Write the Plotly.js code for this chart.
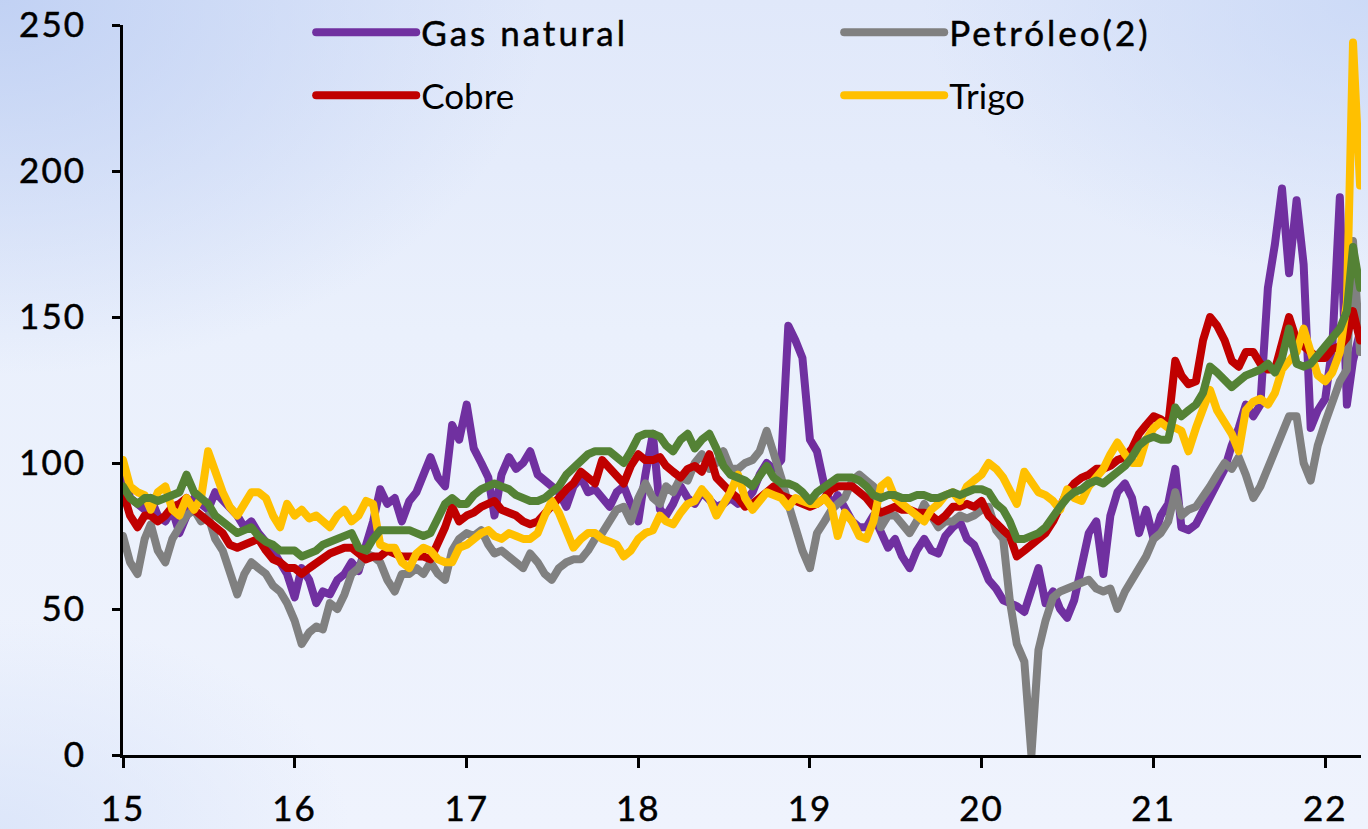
<!DOCTYPE html>
<html>
<head>
<meta charset="utf-8">
<script src="https://cdn.plot.ly/plotly-3.0.1.min.js"></script>
<style>
html, body { margin:0; padding:0; width:1368px; height:829px; overflow:hidden; }
body {
  background:
    radial-gradient(ellipse 760px 520px at 0% 0%, rgba(190,207,243,0.9), rgba(190,207,243,0) 72%),
    radial-gradient(ellipse 620px 380px at 100% 0%, rgba(200,215,246,0.8), rgba(200,215,246,0) 72%),
    radial-gradient(ellipse 500px 300px at 0% 100%, rgba(216,227,249,0.8), rgba(216,227,249,0) 70%),
    linear-gradient(180deg, #e0e8fa 0%, #eaf0fc 40%, #eff3fd 100%);
}
#chart { width:1368px; height:829px; }
.js-line { stroke-linejoin: round; stroke-linecap: round; }
.legendlines path { stroke-linecap: round; }
.legendtext { letter-spacing: 3px; stroke:#000; stroke-width:0.5px; }
.xtick text, .ytick text { letter-spacing: 2px; stroke:#000; stroke-width:0.5px; }
</style>
</head>
<body>
<div id="chart"></div>
<script>
// Semi-monthly observations (1st and 16th of each month), Jan 2015 - Mar 2022
const gasNatural = [
  100,88,86,84,88,82,80,84,76,82,88,86,84,90,87,84,82,78,80,76,73,70,66,62,
  54,64,60,52,56,55,60,62,66,63,72,80,91,86,88,80,87,90,96,102,95,92,113,108,
  120,105,100,95,82,96,102,98,100,104,96,94,92,90,85,92,95,90,91,88,85,90,92,86,
  80,96,110,84,82,86,92,88,86,90,87,85,86,88,86,87,90,96,100,98,101,147,142,136,
  108,104,92,85,89,84,80,78,78,82,76,71,74,68,64,70,74,70,69,75,78,80,74,72,
  66,60,57,53,52,51,49,57,64,52,56,50,47,53,64,76,80,62,82,90,93,88,76,84,
  74,82,86,98,78,77,79,84,88,93,98,106,112,120,116,120,160,175,194,165,190,168,112,118,
  122,140,191,120,135,145
];
const petroleo = [
  75,66,62,74,79,70,66,74,78,82,84,80,82,74,70,62,55,62,66,64,62,58,56,52,
  46,38,42,44,43,52,50,55,62,64,69,68,66,60,56,62,62,64,62,66,62,60,70,74,
  76,75,77,72,69,70,68,66,64,69,66,62,60,64,66,67,67,70,74,76,80,84,85,80,
  88,93,88,86,92,90,95,94,100,103,98,100,104,98,98,100,101,104,111,104,95,86,78,70,
  64,76,80,84,86,88,94,96,94,92,78,82,82,79,76,80,86,82,78,80,80,82,81,82,
  84,85,77,74,53,38,32,0,36,46,54,56,57,58,59,60,57,56,57,50,56,60,64,68,
  74,76,80,90,82,84,85,88,92,96,100,98,102,96,88,92,98,104,110,116,116,100,94,106,
  114,121,128,132,176,138
];
const cobre = [
  90,82,78,82,82,80,82,85,86,88,84,82,80,78,76,72,71,72,73,74,70,67,66,64,
  64,62,64,66,67,69,70,71,71,69,67,68,68,70,69,68,68,68,68,67,72,78,85,80,
  82,83,85,86,87,84,83,82,80,79,80,83,86,88,91,93,97,95,93,101,98,96,93,99,
  103,101,101,102,99,97,95,98,99,97,103,95,92,90,88,85,86,88,90,92,89,88,87,86,
  85,86,88,91,92,92,92,90,88,85,83,84,85,84,84,83,83,82,80,82,85,85,86,85,
  87,82,79,77,75,68,70,72,74,76,80,85,90,93,95,96,98,98,99,101,102,105,110,113,
  116,115,113,135,130,127,128,142,150,147,142,135,133,138,138,134,132,132,140,150,142,140,138,136,
  136,139,140,143,152,142
];
const trigo = [
  101,92,90,89,84,90,92,84,82,88,84,88,104,97,90,85,82,86,90,90,88,82,78,86,
  82,84,81,82,80,78,82,84,80,82,87,86,72,71,71,66,64,69,71,70,67,66,66,71,
  72,74,76,77,75,74,76,75,74,74,76,82,87,83,77,71,74,76,76,74,73,72,68,70,
  74,76,77,82,80,79,83,86,87,91,88,82,86,90,96,88,84,87,90,89,88,85,88,87,
  86,86,88,85,75,83,80,75,74,80,92,94,88,86,84,82,80,84,86,89,90,87,92,94,
  96,100,98,95,91,86,97,93,90,89,87,84,91,88,87,92,95,98,103,107,103,100,100,108,
  112,114,112,112,111,104,112,118,125,118,114,110,104,118,121,122,120,124,132,135,138,146,138,130,
  128,131,138,155,244,195
];
const indiceVerde = [
  92,88,86,88,88,87,88,89,90,96,90,88,86,82,80,78,76,77,78,75,73,72,70,70,
  70,68,69,70,72,73,74,75,76,71,70,74,77,77,77,77,77,76,75,76,82,86,88,86,
  86,89,91,92,93,92,91,89,88,87,87,88,90,92,96,98,101,103,104,104,104,102,100,104,
  109,110,110,109,106,104,108,110,105,108,110,105,99,96,95,94,92,96,99,95,93,93,92,90,
  87,90,92,94,95,95,95,94,92,89,88,89,89,88,88,89,89,88,88,89,90,89,90,91,
  91,90,86,84,80,74,74,75,76,78,82,85,88,90,91,93,94,93,95,97,99,102,106,108,
  109,108,108,119,116,118,120,124,133,131,128,126,128,130,131,132,134,131,136,146,134,133,134,137,
  140,143,146,152,174,160
];

const tickDates = ['2015-01-01','2016-01-01','2017-01-01','2018-01-01','2019-01-01','2020-01-01','2021-01-01','2022-01-01'];
const tickLabels = ['15','16','17','18','19','20','21','22'];
const yTicks = [0, 50, 100, 150, 200, 250];

// observation dates: 1st and 16th of each month
const dates = [];
for (let y = 2015; y <= 2022; y++) {
  for (let m = 1; m <= 12; m++) {
    for (const d of ['01', '16']) {
      if (dates.length < gasNatural.length) dates.push(y + '-' + String(m).padStart(2, '0') + '-' + d);
    }
  }
}

const W = 8;
const traces = [
  {name:'Gas natural', y:gasNatural, line:{color:'#7030A0'}, legend:'legend'},
  {name:'Petróleo(2)', y:petroleo, line:{color:'#808080'}, legend:'legend'},
  {name:'Cobre', y:cobre, line:{color:'#C00000'}, legend:'legend2'},
  {name:'Trigo', y:trigo, line:{color:'#FFC000'}, legend:'legend2'},
  {name:'Índice', y:indiceVerde, line:{color:'#548235'}, showlegend:false}
].map(t => Object.assign({type:'scatter', mode:'lines', x:dates, hoverinfo:'skip'}, t, {line:Object.assign({width:W, shape:'linear'}, t.line)}));

const fontFam = 'Lato, "Open Sans", "Noto Sans", sans-serif';
const legendBase = {
  orientation:'h', xanchor:'left', yanchor:'top',
  entrywidth:413, entrywidthmode:'pixels', itemwidth:100,
  bgcolor:'rgba(0,0,0,0)', borderwidth:0,
  font:{family:fontFam, size:35, color:'#000'}
};

const layout = {
  width:1368, height:829,
  margin:{l:123, r:7, t:25, b:74, pad:0, autoexpand:false},
  paper_bgcolor:'rgba(0,0,0,0)', plot_bgcolor:'rgba(0,0,0,0)',
  font:{family:fontFam, size:35, color:'#000'},
  showlegend:true,
  xaxis:{
    type:'date', range:['2015-01-01','2022-03-18'], automargin:false,
    tickmode:'array', tickvals:tickDates, ticktext:tickLabels,
    showgrid:false, zeroline:false, showline:true, linecolor:'#000', linewidth:3,
    ticks:'outside', ticklen:10, tickwidth:3, tickcolor:'#000', ticklabelstandoff:11,
    tickfont:{family:fontFam, size:35, color:'#000'}, fixedrange:true
  },
  yaxis:{
    range:[0,250], tickmode:'array', tickvals:yTicks, automargin:false,
    showgrid:false, zeroline:false, showline:true, linecolor:'#000', linewidth:3,
    ticks:'outside', ticklen:8, tickwidth:3, tickcolor:'#000', ticklabelstandoff:19,
    tickfont:{family:fontFam, size:35, color:'#000'}, fixedrange:true
  },
  legend:Object.assign({}, legendBase, {x:0.152, y:1.030}),
  legend2:Object.assign({}, legendBase, {x:0.152, y:0.944})
};

Plotly.newPlot('chart', traces, layout, {displayModeBar:false, staticPlot:true});
</script>
</body>
</html>
